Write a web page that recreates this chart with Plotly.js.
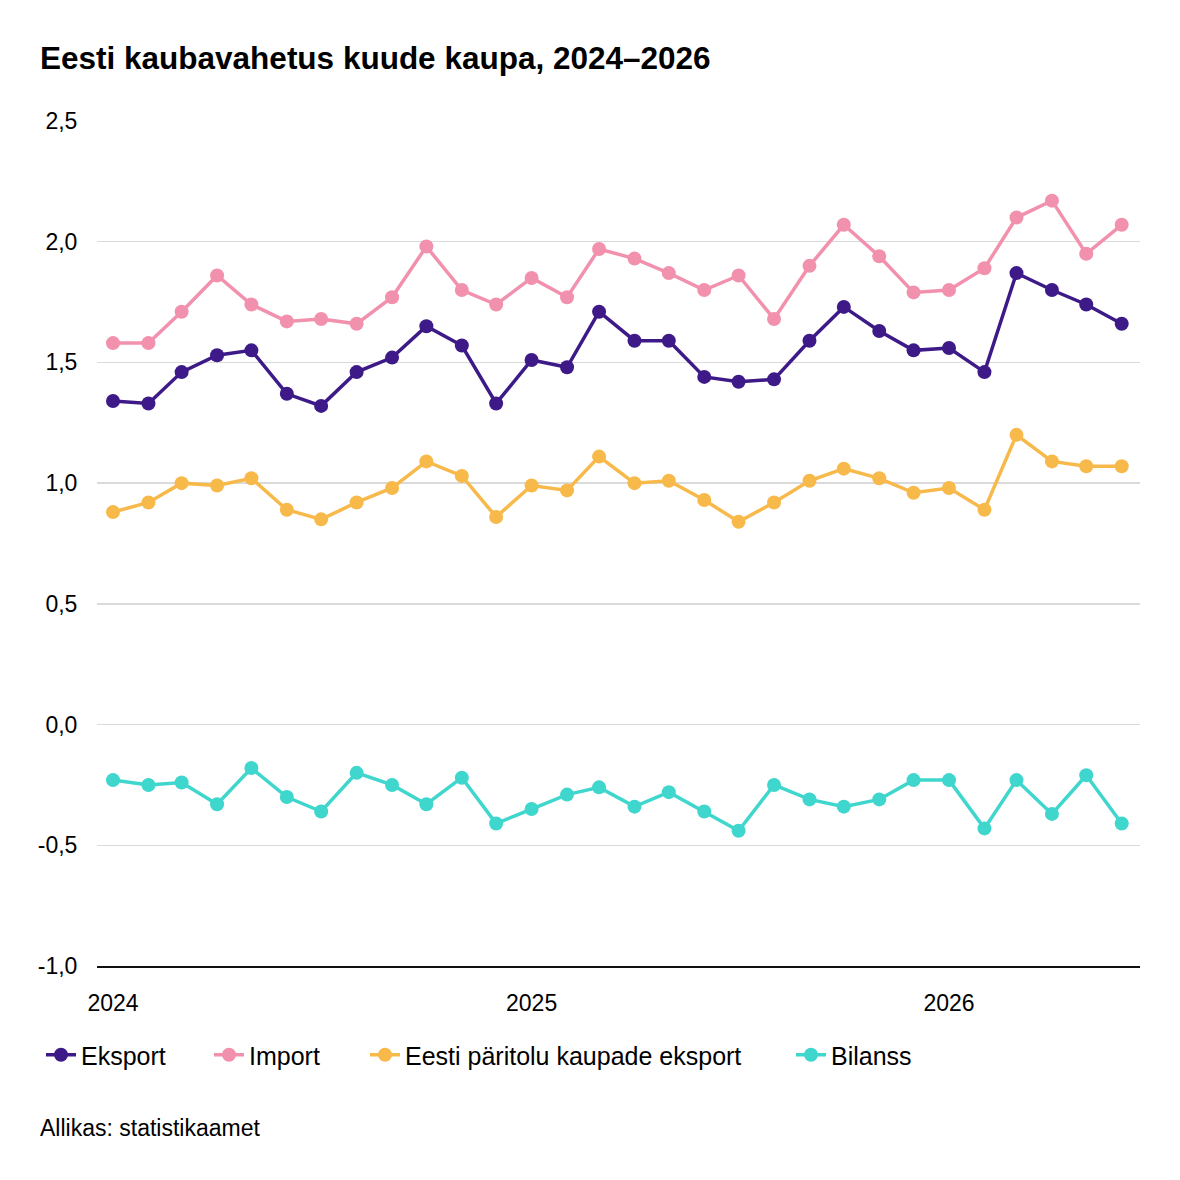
<!DOCTYPE html>
<html>
<head>
<meta charset="utf-8">
<script src="https://cdn.plot.ly/plotly-3.0.1.min.js"></script>
<style>
  html, body { margin: 0; padding: 0; background: #fff; }
  #chart { width: 1180px; height: 1180px; }
</style>
</head>
<body>
<div id="chart"></div>
<script>
// kuud jaanuar 2024 - juuni 2026
var months = [
  "2024-01-01", "2024-02-01", "2024-03-01", "2024-04-01", "2024-05-01", "2024-06-01",
  "2024-07-01", "2024-08-01", "2024-09-01", "2024-10-01", "2024-11-01", "2024-12-01",
  "2025-01-01", "2025-02-01", "2025-03-01", "2025-04-01", "2025-05-01", "2025-06-01",
  "2025-07-01", "2025-08-01", "2025-09-01", "2025-10-01", "2025-11-01", "2025-12-01",
  "2026-01-01", "2026-02-01", "2026-03-01", "2026-04-01", "2026-05-01", "2026-06-01"
];

var eksport = [1.34, 1.33, 1.46, 1.53, 1.55, 1.37, 1.32, 1.46, 1.52, 1.65, 1.57, 1.33,
  1.51, 1.48, 1.71, 1.59, 1.59, 1.44, 1.42, 1.43, 1.59, 1.73, 1.63, 1.55,
  1.56, 1.46, 1.87, 1.80, 1.74, 1.66];

var importV = [1.58, 1.58, 1.71, 1.86, 1.74, 1.67, 1.68, 1.66, 1.77, 1.98, 1.80, 1.74,
  1.85, 1.77, 1.97, 1.93, 1.87, 1.80, 1.86, 1.68, 1.90, 2.07, 1.94, 1.79,
  1.80, 1.89, 2.10, 2.17, 1.95, 2.07];

var eestiPaeritolu = [0.88, 0.92, 1.00, 0.99, 1.02, 0.89, 0.85, 0.92, 0.98, 1.09, 1.03, 0.86,
  0.99, 0.97, 1.11, 1.00, 1.01, 0.93, 0.84, 0.92, 1.01, 1.06, 1.02, 0.96,
  0.98, 0.89, 1.20, 1.09, 1.07, 1.07];

var bilanss = [-0.23, -0.25, -0.24, -0.33, -0.18, -0.30, -0.36, -0.20, -0.25, -0.33, -0.22, -0.41,
  -0.35, -0.29, -0.26, -0.34, -0.28, -0.36, -0.44, -0.25, -0.31, -0.34, -0.31, -0.23,
  -0.23, -0.43, -0.23, -0.37, -0.21, -0.41];

var yTicks = [-1.0, -0.5, 0.0, 0.5, 1.0, 1.5, 2.0, 2.5];
var yTickText = ["-1,0", "-0,5", "0,0", "0,5", "1,0", "1,5", "2,0", "2,5"];

var FONT = "'Liberation Sans', Arial, Helvetica, sans-serif";

function series(name, values, color, legendId) {
  return {
    x: months,
    y: values,
    name: name,
    legend: legendId,
    type: "scatter",
    mode: "lines+markers",
    line: { color: color, width: 3.5 },
    marker: { color: color, size: 14 },
  };
}

var data = [
  series("Eksport", eksport, "#3d1a87", "legend"),
  series("Import", importV, "#f291ad", "legend2"),
  series("Eesti päritolu kaupade eksport", eestiPaeritolu, "#f8b94b", "legend3"),
  series("Bilanss", bilanss, "#3fd6cd", "legend4"),
];

// one legend per trace so the entries keep the reference spacing
function legendAt(px) {
  return {
    orientation: "h",
    xref: "container", x: px / 1180, xanchor: "left",
    yref: "container", y: 1 - 1055 / 1180, yanchor: "middle",
    font: { size: 25 },
    bgcolor: "rgba(0,0,0,0)",
  };
}

var layout = {
  width: 1180,
  height: 1180,
  paper_bgcolor: "#fff",
  plot_bgcolor: "#fff",
  font: { family: FONT, color: "#000", size: 23 },
  margin: { l: 97, r: 40, t: 121, b: 214 },
  title: {
    text: "Eesti kaubavahetus kuude kaupa, 2024–2026",
    font: { family: FONT, size: 31.5, weight: "bold", color: "#000" },
    xref: "container", x: 40 / 1180, xanchor: "left",
    yref: "container", y: 1 - 58 / 1180, yanchor: "middle",
  },
  xaxis: {
    type: "date",
    range: ["2023-12-18", "2026-06-17"],
    tick0: "2024-01-01",
    dtick: "M12",
    tickformat: "%Y",
    ticks: "outside",
    ticklen: 15,
    tickcolor: "rgba(0,0,0,0)",
    showgrid: false,
    showline: true,
    linecolor: "#111",
    linewidth: 2,
    tickfont: { size: 23 },
    fixedrange: true,
  },
  yaxis: {
    range: [-1.0, 2.5],
    tickvals: yTicks,
    ticktext: yTickText,
    ticks: "outside",
    ticklen: 14,
    tickcolor: "rgba(0,0,0,0)",
    showgrid: true,
    gridcolor: "#dadada",
    gridwidth: 1.5,
    zeroline: false,
    showline: false,
    tickfont: { size: 23 },
    fixedrange: true,
  },
  showlegend: true,
  legend: legendAt(41),
  legend2: legendAt(209),
  legend3: legendAt(365),
  legend4: legendAt(791),
  annotations: [{
    text: "Allikas: statistikaamet",
    xref: "paper", x: (38 - 97) / 1043, xanchor: "left",
    yref: "paper", y: (966 - 1128) / 845, yanchor: "middle",
    showarrow: false,
    font: { size: 23, color: "#000" },
  }],
};

Plotly.newPlot("chart", data, layout, { displayModeBar: false, staticPlot: true });
</script>
</body>
</html>
